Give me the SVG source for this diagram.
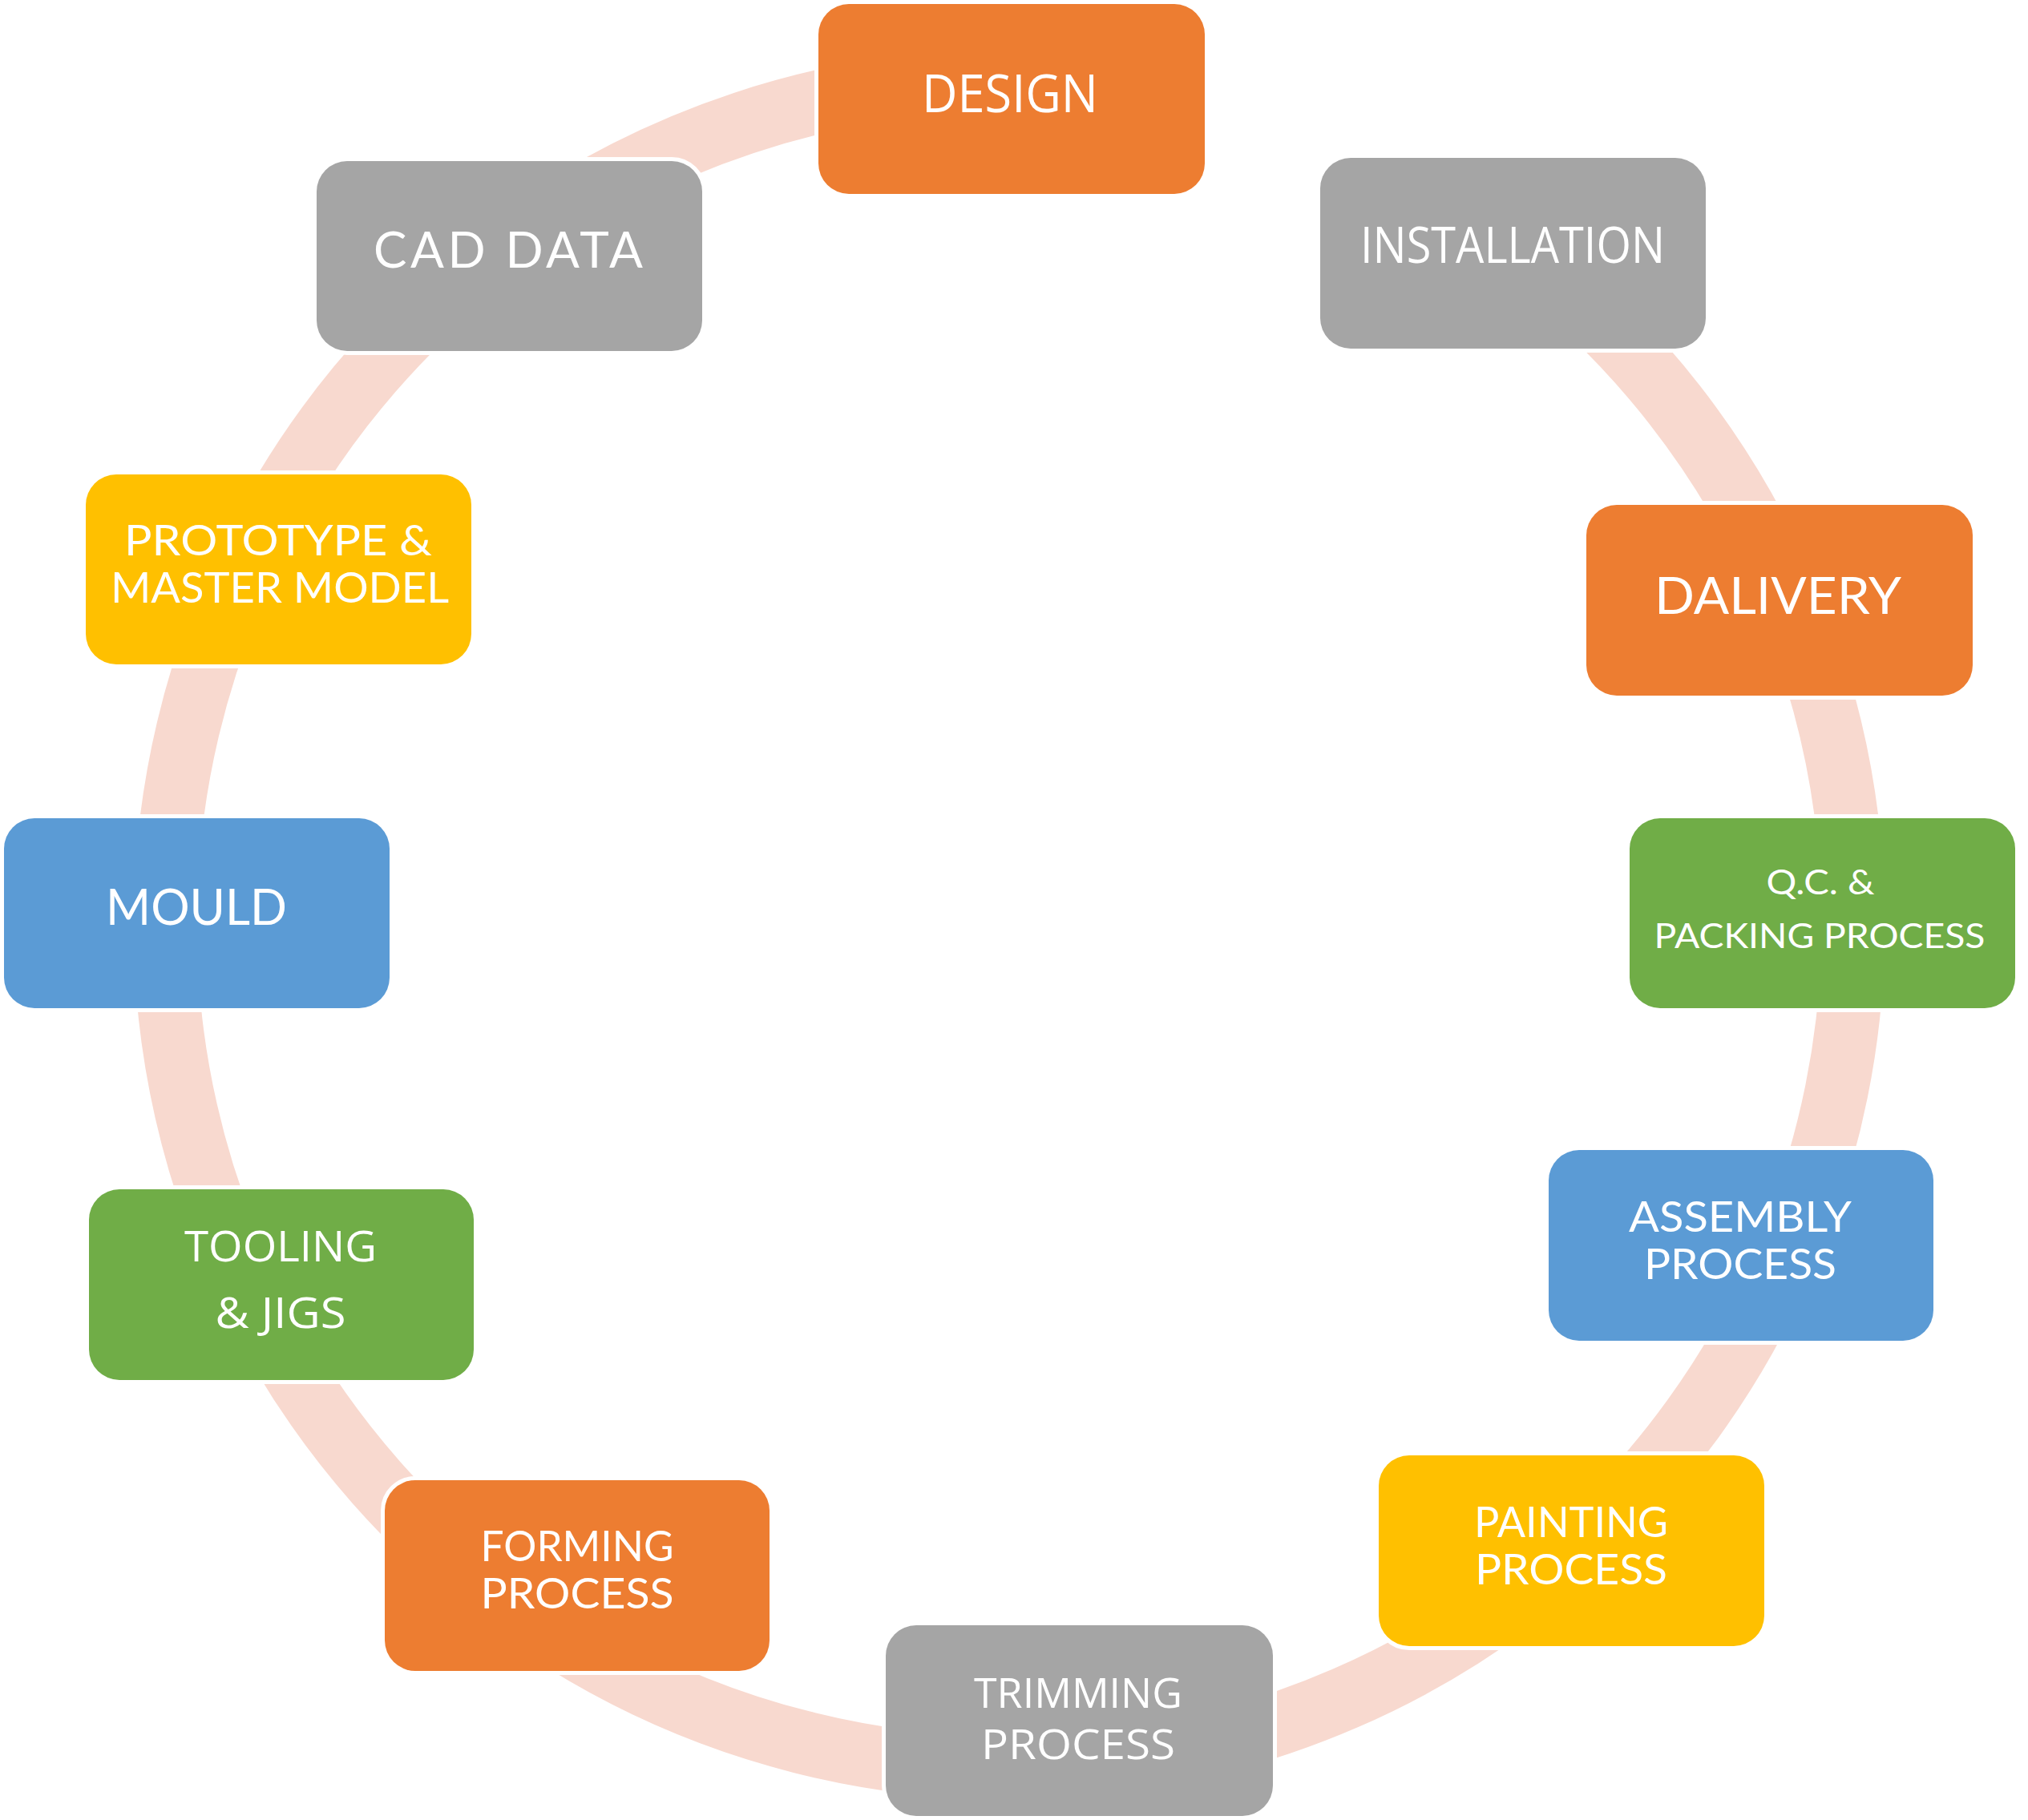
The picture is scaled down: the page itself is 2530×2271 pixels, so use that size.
<svg xmlns="http://www.w3.org/2000/svg" width="2530" height="2271" viewBox="0 0 2530 2271">
<style>
.node{stroke:#FFFFFF;stroke-width:10;paint-order:stroke fill}
.orange{fill:#ED7D31}.gray{fill:#A5A5A5}.yellow{fill:#FFC000}.blue{fill:#5B9BD5}.green{fill:#70AD47}
.t{fill:#FFFFFF;text-anchor:middle}
.g{font-family:Lato,"Noto Sans","DejaVu Sans",sans-serif}
.h{font-family:"Open Sans","Noto Sans","DejaVu Sans",sans-serif}
.conn{fill:none;stroke:#F8D9CF;stroke-width:79}
</style>
<rect width="2530" height="2271" fill="#FFFFFF"/>
<g id="connectors">
<path class="conn" d="M1891.3,310.9 A1053,1053 0 0 1 2229.5,744.3"/>
<path class="conn" d="M2229.5,744.3 A1053,1053 0 0 1 2311.9,1138.5"/>
<path class="conn" d="M2311.9,1138.5 A1053,1053 0 0 1 2223.1,1576.4"/>
<path class="conn" d="M2223.1,1576.4 A1053,1053 0 0 1 1961.9,1937.1"/>
<path class="conn" d="M1961.9,1937.1 A1053,1053 0 0 1 1351.4,2202"/>
<path class="conn" d="M1351.4,2202 A1053,1053 0 0 1 677.1,2030.7"/>
<path class="conn" d="M677.1,2030.7 A1053,1053 0 0 1 315.5,1620.6"/>
<path class="conn" d="M315.5,1620.6 A1053,1053 0 0 1 206.1,1139"/>
<path class="conn" d="M206.1,1139 A1053,1053 0 0 1 311.7,693.1"/>
<path class="conn" d="M311.7,693.1 A1053,1053 0 0 1 628.3,309.8"/>
<path class="conn" d="M628.3,309.8 A1053,1053 0 0 1 1261.6,100"/>
</g>
<g id="design"><rect class="node orange" x="1021" y="5" width="482" height="237" rx="38"/>
<text class="t h" x="1260" y="140" font-size="65" textLength="220" lengthAdjust="spacingAndGlyphs">DESIGN</text></g>
<g id="installation"><rect class="node gray" x="1647" y="197" width="481" height="238" rx="38"/>
<text class="t h" x="1887" y="328" font-size="62" textLength="380" lengthAdjust="spacingAndGlyphs">INSTALLATION</text></g>
<g id="dalivery"><rect class="node orange" x="1979" y="630" width="482" height="238" rx="38"/>
<text class="t g" x="2218" y="766" font-size="64" textLength="308" lengthAdjust="spacingAndGlyphs">DALIVERY</text></g>
<g id="qc-packing"><rect class="node green" x="2033" y="1021" width="481" height="237" rx="38"/>
<text class="t g" x="2271" y="1116" font-size="42" textLength="135" lengthAdjust="spacingAndGlyphs">Q.C. &amp;</text>
<text class="t g" x="2270" y="1183" font-size="42" textLength="413" lengthAdjust="spacingAndGlyphs">PACKING PROCESS</text></g>
<g id="assembly"><rect class="node blue" x="1932" y="1435" width="480" height="238" rx="38"/>
<text class="t g" x="2171" y="1537" font-size="53" textLength="278" lengthAdjust="spacingAndGlyphs">ASSEMBLY</text>
<text class="t g" x="2171" y="1596" font-size="53" textLength="240" lengthAdjust="spacingAndGlyphs">PROCESS</text></g>
<g id="painting"><rect class="node yellow" x="1720" y="1816" width="481" height="238" rx="38"/>
<text class="t g" x="1960" y="1918" font-size="53" textLength="242" lengthAdjust="spacingAndGlyphs">PAINTING</text>
<text class="t g" x="1960" y="1977" font-size="53" textLength="240" lengthAdjust="spacingAndGlyphs">PROCESS</text></g>
<g id="trimming"><rect class="node gray" x="1105" y="2028" width="483" height="238" rx="38"/>
<text class="t h" x="1345" y="2131" font-size="51" textLength="260" lengthAdjust="spacingAndGlyphs">TRIMMING</text>
<text class="t h" x="1345" y="2195" font-size="51" textLength="242" lengthAdjust="spacingAndGlyphs">PROCESS</text></g>
<g id="forming"><rect class="node orange" x="480" y="1847" width="480" height="238" rx="38"/>
<text class="t g" x="720" y="1948" font-size="53" textLength="241" lengthAdjust="spacingAndGlyphs">FORMING</text>
<text class="t g" x="720" y="2007" font-size="53" textLength="241" lengthAdjust="spacingAndGlyphs">PROCESS</text></g>
<g id="tooling"><rect class="node green" x="111" y="1484" width="480" height="238" rx="38"/>
<text class="t h" x="350" y="1574" font-size="53" textLength="240" lengthAdjust="spacingAndGlyphs">TOOLING</text>
<text class="t h" x="350" y="1657" font-size="53" textLength="163" lengthAdjust="spacingAndGlyphs">&amp; JIGS</text></g>
<g id="mould"><rect class="node blue" x="5" y="1021" width="481" height="237" rx="38"/>
<text class="t g" x="245" y="1154" font-size="62" textLength="226" lengthAdjust="spacingAndGlyphs">MOULD</text></g>
<g id="prototype"><rect class="node yellow" x="107" y="592" width="481" height="237" rx="38"/>
<text class="t g" x="347" y="693" font-size="53" textLength="384" lengthAdjust="spacingAndGlyphs">PROTOTYPE &amp;</text>
<text class="t g" x="349" y="752" font-size="53" textLength="422" lengthAdjust="spacingAndGlyphs">MASTER MODEL</text></g>
<g id="cad-data"><rect class="node gray" x="395" y="201" width="481" height="237" rx="38"/>
<text class="t g" x="634" y="334" font-size="62" textLength="336" lengthAdjust="spacing">CAD DATA</text></g>
</svg>
